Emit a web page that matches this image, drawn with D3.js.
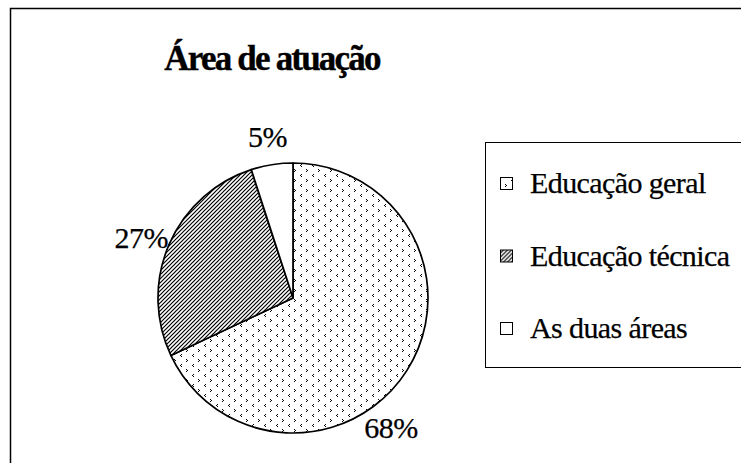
<!DOCTYPE html>
<html>
<head>
<meta charset="utf-8">
<script src="https://cdn.jsdelivr.net/npm/d3@7/dist/d3.min.js"></script>
<style>
  body { margin: 0; background: #fff; }
</style>
</head>
<body>
<script>
// chart data
var categories = ["Educação geral", "Educação técnica", "As duas áreas"];
var values = [68, 27, 5];
var labels = ["68%", "27%", "5%"];
var patterns = ["pat-dots", "pat-hatch", "none"];

var width = 741, height = 463;
var cx = 293, cy = 298, radius = 135;
var labelRadius = 163;
// small angle nudges (degrees) so labels sit where the original has them
var labelShift = [20.6, -2, 0];
var serif = "'Times New Roman', 'Liberation Serif', Tinos, 'DejaVu Serif', serif";

var svg = d3.select('body').append('svg').attr('width', width).attr('height', height)
	.style('font-family', serif);

// patterns
var defs = svg.append('defs');
var dots = defs.append('pattern').attr('id', 'pat-dots').attr('patternUnits', 'userSpaceOnUse')
	.attr('width', 12).attr('height', 10);
dots.append('rect').attr('width', 12).attr('height', 10).attr('fill', '#fff');
dots.append('path').attr('d', 'M1,1h1v1h-1zM2,2h1v1h-1zM1,3h1v1h-1z').attr('fill', '#000');
dots.append('path').attr('d', 'M8,6h1v1h-1zM7,7h1v1h-1zM8,8h1v1h-1z').attr('fill', '#000');

var hatch = defs.append('pattern').attr('id', 'pat-hatch').attr('patternUnits', 'userSpaceOnUse')
	.attr('width', 4).attr('height', 4);
hatch.append('rect').attr('width', 4).attr('height', 4).attr('fill', '#fff');
hatch.append('path').attr('d', 'M-1,1 l2,-2 M0,4 l4,-4 M3,5 l2,-2')
	.attr('stroke', '#000').attr('stroke-width', 1.2);

// outer chart border (runs off the right and bottom of the picture)
svg.append('rect').attr('x', 10.5).attr('y', 8.5).attr('width', 800).attr('height', 500)
	.attr('fill', 'none').attr('stroke', '#000').attr('stroke-width', 1.5);

// title
svg.append('text').attr('x', 272).attr('y', 70).attr('text-anchor', 'middle')
	.attr('font-family', serif)
	.attr('font-size', 35).attr('font-weight', 'bold').attr('letter-spacing', -1.8)
	.attr('stroke', '#000').attr('stroke-width', 0.4)
	.text('Área de atuação');

// pie
var pie = d3.pie().sort(null).value(d => d)(values);
var arc = d3.arc().innerRadius(0).outerRadius(radius);
var g = svg.append('g').attr('transform', 'translate(' + cx + ',' + cy + ')');

g.selectAll('path.slice').data(pie).enter().append('path').attr('class', 'slice')
	.attr('d', arc)
	.attr('fill', (d, i) => patterns[i] == 'none' ? '#fff' : 'url(#' + patterns[i] + ')')
	.attr('stroke', '#000').attr('stroke-width', 1.7).attr('stroke-linejoin', 'round');

g.selectAll('text.lbl').data(pie).enter().append('text').attr('class', 'lbl')
	.attr('x', (d, i) => {
		var a = (d.startAngle + d.endAngle) / 2 + labelShift[i] * Math.PI / 180;
		return Math.sin(a) * labelRadius;
	})
	.attr('y', (d, i) => {
		var a = (d.startAngle + d.endAngle) / 2 + labelShift[i] * Math.PI / 180;
		return -Math.cos(a) * labelRadius;
	})
	.attr('dy', '0.33em').attr('text-anchor', 'middle')
	.attr('font-family', serif).attr('font-size', 30)
	.attr('letter-spacing', -0.5).attr('stroke', '#000').attr('stroke-width', 0.25)
	.text((d, i) => labels[i]);

// legend
var legend = svg.append('g');
legend.append('rect').attr('x', 485.5).attr('y', 142.5).attr('width', 300).attr('height', 225)
	.attr('fill', '#fff').attr('stroke', '#000').attr('stroke-width', 1);

var rowY = d3.scalePoint().domain(categories).range([193, 338]);

var items = legend.selectAll('g.item').data(categories).enter().append('g').attr('class', 'item')
	.attr('transform', d => 'translate(0,' + rowY(d) + ')');
items.append('rect').attr('x', 500.5).attr('y', -15.5).attr('width', 12).attr('height', 12)
	.attr('fill', (d, i) => patterns[i] == 'none' ? '#fff' : 'url(#' + patterns[i] + ')')
	.attr('stroke', '#000').attr('stroke-width', 1);
items.append('text').attr('x', 530).attr('y', 0)
	.attr('font-family', serif).attr('font-size', 30).attr('letter-spacing', -0.6)
	.attr('stroke', '#000').attr('stroke-width', 0.25)
	.text(d => d);
</script>
</body>
</html>
